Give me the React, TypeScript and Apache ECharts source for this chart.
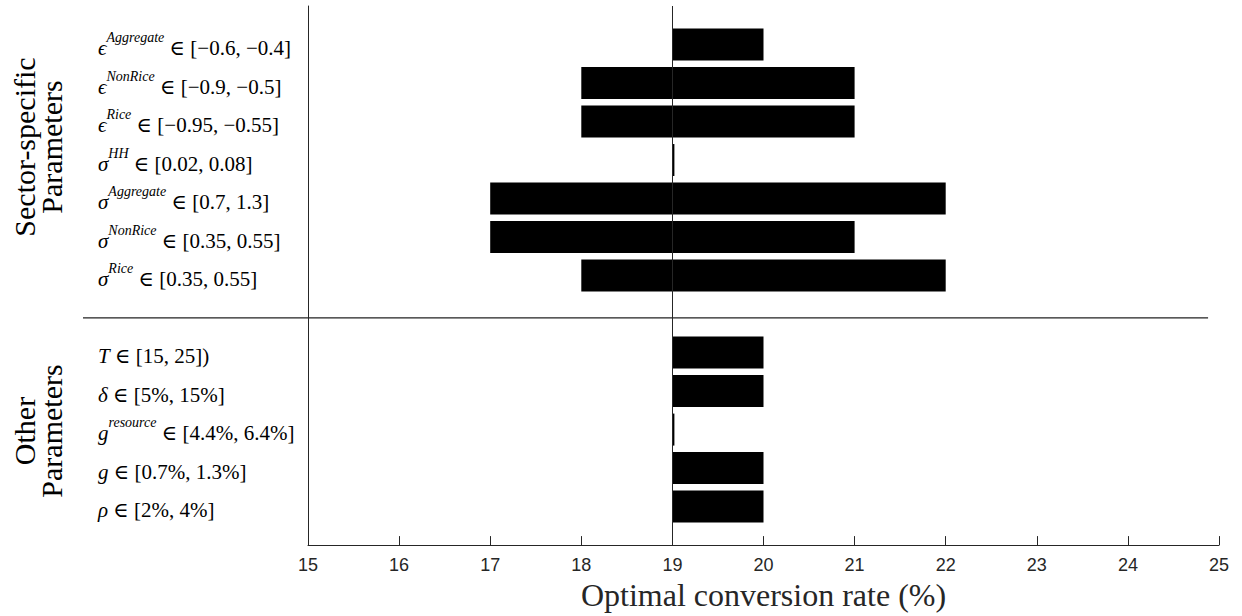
import React, { useEffect, useRef } from "react";
import * as echarts from "echarts";

// Row keys (top to bottom); pads at both ends and an empty gap row between groups
const categories = ["pad0", "epsAgg", "epsNonRice", "epsRice", "sigHH", "sigAgg", "sigNonRice", "sigRice", "gap", "T", "delta", "gres", "g", "rho", "pad1"];
const rowLabels = [
  "",
  "{v|ϵ}{s|Aggregate}{r| ∈ [−0.6, −0.4]}",
  "{v|ϵ}{s|NonRice}{r| ∈ [−0.9, −0.5]}",
  "{v|ϵ}{s|Rice}{r| ∈ [−0.95, −0.55]}",
  "{v|σ}{s|HH}{r| ∈ [0.02, 0.08]}",
  "{v|σ}{s|Aggregate}{r| ∈ [0.7, 1.3]}",
  "{v|σ}{s|NonRice}{r| ∈ [0.35, 0.55]}",
  "{v|σ}{s|Rice}{r| ∈ [0.35, 0.55]}",
  "",
  "{v|T}{r| ∈ [15, 25])}",
  "{v|δ}{r| ∈ [5%, 15%]}",
  "{v|g}{s|resource}{r| ∈ [4.4%, 6.4%]}",
  "{v|g}{r| ∈ [0.7%, 1.3%]}",
  "{v|ρ}{r| ∈ [2%, 4%]}",
  "",
];
const lowValues: (number | string)[] = ["-", 19, 18, 18, 19, 17, 17, 18, "-", 19, 19, 19, 19, 19, "-"];
const highValues: (number | string)[] = ["-", 20, 21, 21, 19, 22, 21, 22, "-", 20, 20, 19, 20, 20, "-"];
const baseValue = 19;
const xMin = 15;
const xMax = 25;
const xTitle = "Optimal conversion rate (%)";
const groupTitles = ["Sector-specific\nParameters", "Other\nParameters"];

const AXIS = "#262626";
const SERIF = "'Liberation Serif', 'DejaVu Serif', serif";

export default function App() {
  const ref = useRef<HTMLDivElement>(null);
  useEffect(() => {
    document.body.style.margin = "0";
    const chart = echarts.init(ref.current!, undefined, { renderer: "svg" });
    const spans = highValues.map((h, i) =>
      typeof h === "number" && typeof lowValues[i] === "number" ? h - (lowValues[i] as number) : "-"
    );
    chart.setOption({
      animation: false,
      grid: { left: 308, right: 23, top: 6, bottom: 68, containLabel: false },
      xAxis: {
        type: "value",
        min: xMin,
        max: xMax,
        interval: 1,
        axisLine: { show: true, onZero: false, lineStyle: { color: AXIS, width: 1 } },
        axisTick: { show: true, inside: true, length: 9, lineStyle: { color: AXIS } },
        splitLine: { show: false },
        axisLabel: { fontFamily: "'Liberation Sans', Arial, sans-serif", fontSize: 18, color: AXIS, margin: 11 },
        name: xTitle,
        nameLocation: "middle",
        nameGap: 29,
        nameTextStyle: { fontFamily: SERIF, fontSize: 32, color: AXIS },
      },
      yAxis: {
        type: "category",
        data: categories,
        inverse: true,
        boundaryGap: false,
        axisLine: { show: true, lineStyle: { color: AXIS, width: 1 } },
        axisTick: { show: false },
        splitLine: { show: false },
        axisLabel: {
          interval: 0,
          align: "left",
          margin: 210,
          formatter: (_v: string, i: number) => rowLabels[i],
          rich: {
            v: { fontFamily: SERIF, fontStyle: "italic", fontSize: 21, lineHeight: 28, verticalAlign: "bottom", color: "#000" },
            r: { fontFamily: SERIF, fontSize: 21, lineHeight: 28, verticalAlign: "bottom", color: "#000" },
            s: { fontFamily: SERIF, fontStyle: "italic", fontSize: 14, lineHeight: 14, verticalAlign: "top", color: "#000" },
          },
        },
      },
      series: [
        {
          type: "bar",
          stack: "range",
          data: lowValues,
          barWidth: 32,
          itemStyle: { color: "rgba(0,0,0,0)" },
          silent: true,
        },
        {
          type: "bar",
          stack: "range",
          data: spans,
          barWidth: 32,
          barMinHeight: 2,
          itemStyle: { color: "#000" },
          silent: true,
          markLine: {
            silent: true,
            symbol: "none",
            label: { show: false },
            lineStyle: { color: AXIS, width: 1, type: "solid" },
            data: [{ xAxis: baseValue }],
          },
        },
      ],
      graphic: [
        {
          id: "g1",
          type: "text",
          x: 38,
          y: 147,
          rotation: Math.PI / 2,
          style: { text: groupTitles[0], font: `30px ${SERIF}`, fill: "#000", align: "center", verticalAlign: "middle", lineHeight: 27 },
        },
        {
          id: "g2",
          type: "text",
          x: 38,
          y: 431,
          rotation: Math.PI / 2,
          style: { text: groupTitles[1], font: `30px ${SERIF}`, fill: "#000", align: "center", verticalAlign: "middle", lineHeight: 27 },
        },
      ],
    });
    // divider between the two parameter groups
    const y8 = chart.convertToPixel({ yAxisIndex: 0 }, 8) as number;
    const y9 = chart.convertToPixel({ yAxisIndex: 0 }, 9) as number;
    const yd = y8 + 0.1 * (y9 - y8);
    const xl = chart.convertToPixel({ xAxisIndex: 0 }, 12.53) as number;
    const xr = chart.convertToPixel({ xAxisIndex: 0 }, 24.88) as number;
    chart.setOption({
      graphic: [
        { id: "div", type: "line", shape: { x1: xl, y1: yd, x2: xr, y2: yd }, style: { stroke: "#222", lineWidth: 1.2 } },
      ],
    });
    return () => chart.dispose();
  }, []);
  return <div ref={ref} style={{ width: 1242, height: 616 }} />;
}
